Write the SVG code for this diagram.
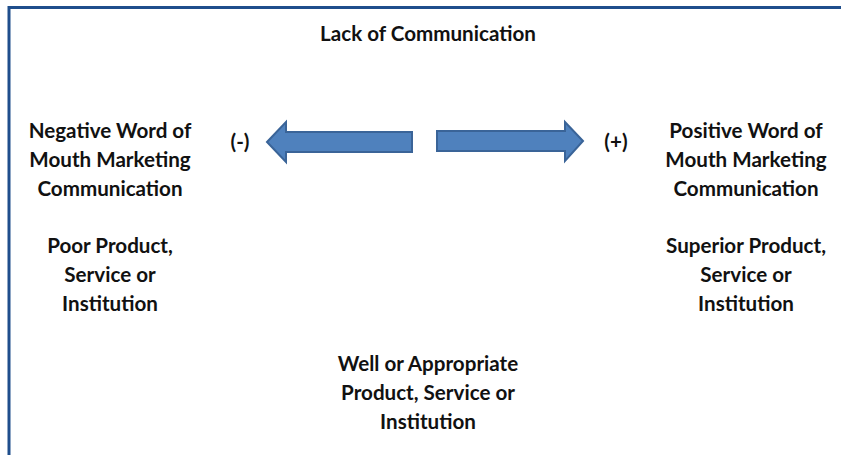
<svg xmlns="http://www.w3.org/2000/svg" width="841" height="455" viewBox="0 0 841 455">
<style>
text{font-family:Lato,"Liberation Sans",sans-serif;font-weight:bold;font-size:20.6px;fill:#111;text-anchor:middle}
.arrow{fill:#4F81BD;stroke:#3A6498;stroke-width:2;stroke-linejoin:miter}
.frame{fill:none;stroke:#1F4E8C;stroke-width:3}
</style>
<rect width="841" height="455" fill="#fff"/>
<path class="frame" d="M9,455 V7.5 H841"/>
<g id="title"><text x="428" y="41">Lack of Communication</text></g>
<g id="negative">
<text x="110" y="138">Negative Word of</text>
<text x="110" y="167">Mouth Marketing</text>
<text x="110" y="196">Communication</text>
<text x="110" y="253">Poor Product,</text>
<text x="110" y="282">Service or</text>
<text x="110" y="311">Institution</text>
</g>
<g id="positive">
<text x="746" y="138">Positive Word of</text>
<text x="746" y="167">Mouth Marketing</text>
<text x="746" y="196">Communication</text>
<text x="746" y="253">Superior Product,</text>
<text x="746" y="282">Service or</text>
<text x="746" y="311">Institution</text>
</g>
<g id="neutral">
<text x="428" y="371">Well or Appropriate</text>
<text x="428" y="400">Product, Service or</text>
<text x="428" y="429">Institution</text>
</g>
<g id="minus"><text x="240" y="149">(-)</text></g>
<g id="plus"><text x="616" y="149">(+)</text></g>
<g id="connectors">
<path class="arrow" d="M267,142 L286,122 V132 H412 V152 H286 V162 Z"/>
<path class="arrow" d="M583,141 L565,122 V131 H437 V151 H565 V161 Z"/>
</g>
</svg>
